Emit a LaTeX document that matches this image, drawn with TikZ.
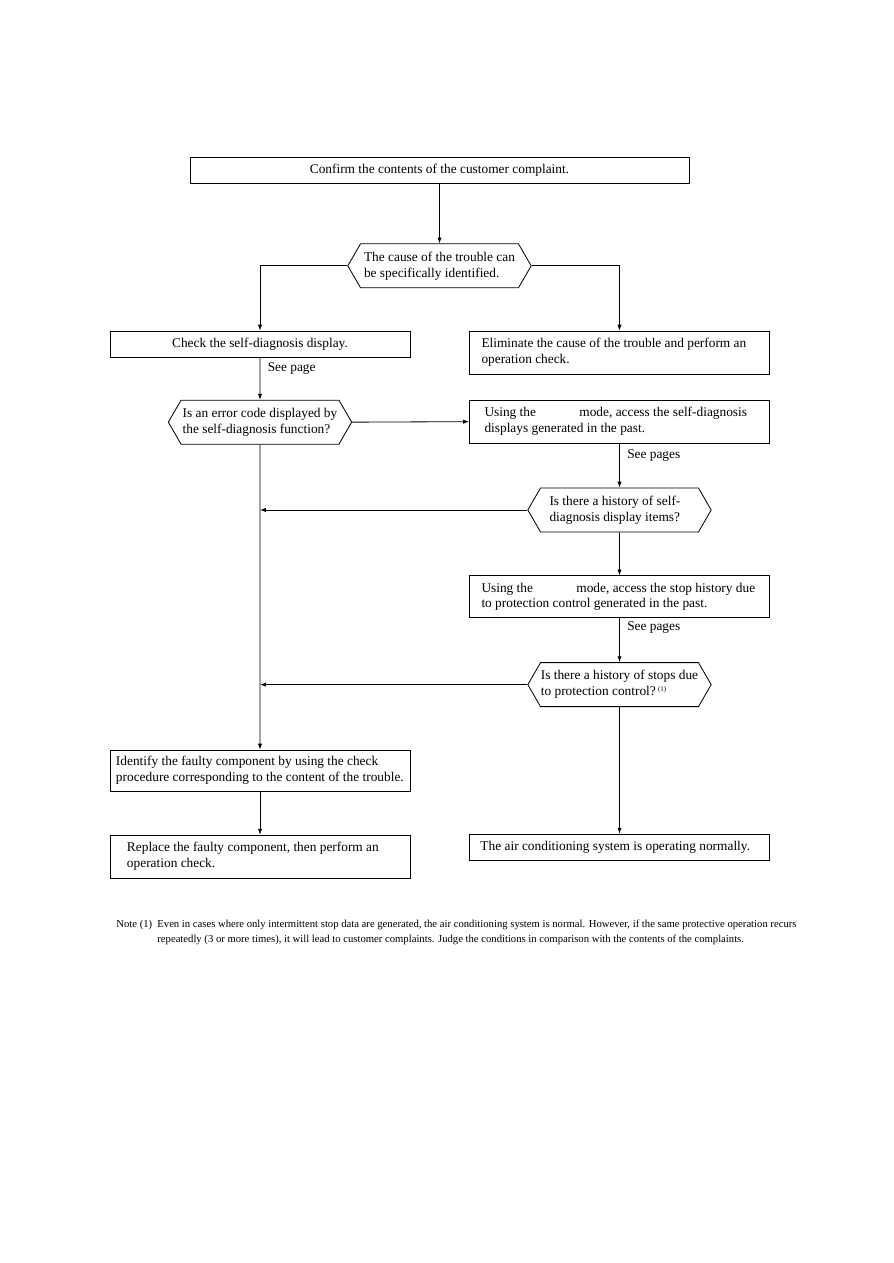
\documentclass[tikz,border=0pt]{standalone}
\usepackage{fontspec}
\setmainfont{Liberation Serif}
\usetikzlibrary{positioning,shapes.symbols,arrows.meta}

\newcommand{\notefont}{\fontsize{9.1}{12.3}\selectfont}
\newcommand{\noteref}{\,\raisebox{0.7ex}{\fontsize{6}{6}\selectfont(1)}}

\begin{document}
\begin{tikzpicture}[
  x=0.03cm, y=-0.03cm,
  font=\fontsize{11.4}{13.6}\selectfont,
  line width=0.7pt,
  box/.style={draw, rectangle, minimum width=9cm, minimum height=0.78cm, inner ysep=2pt},
  lbox/.style={box, minimum height=1.29cm, align=flush left, text width=9cm, inner xsep=0pt,
               execute at begin node={\leftskip=#1\relax}},
  decide/.style={draw, signal, signal to=west and east, signal pointer angle=120,
                 minimum width=5.5cm, minimum height=1.32cm, align=left, inner xsep=0pt, inner ysep=1pt},
  arr/.style={-{Latex[length=5pt, width=3.6pt]}},
  seep/.style={anchor=west, inner sep=0pt, xshift=0.22cm},
]
\useasboundingbox (0,0) rectangle (893,1263);

% Top
\node[box, minimum width=14.97cm] (start) at (439.5,170) {Confirm the contents of the customer complaint.};
\node[decide, below=1.8cm of start] (d1) {The cause of the trouble can\\be specifically identified.};

% Left column
\node[box] (check) at (260,344) {Check the self-diagnosis display.};
\node[decide, below=1.27cm of check] (d2) {Is an error code displayed by\\the self-diagnosis function?};
\node[lbox=0.18cm, minimum height=1.23cm] (ident) at (260,770.5)
  {Identify the faulty component by using the check\\procedure corresponding to the content of the trouble.};
\node[lbox=0.51cm, below=1.3cm of ident] (replace)
  {Replace the faulty component, then perform an\\operation check.};

% Right column
\node[lbox=0.36cm] (elim) at (619.5,352.5)
  {Eliminate the cause of the trouble and perform an\\operation check.};
\node[lbox=0.45cm, below=0.76cm of elim] (using1)
  {Using the \hspace{1.1cm} mode, access the self-diagnosis\\displays generated in the past.};
\node[decide, below=1.32cm of using1, align=flush left, text width=4.2cm] (d3)
  {Is there a history of self-\\diagnosis display items?};
\node[lbox=0.36cm, minimum height=1.26cm, below=1.29cm of d3] (using2)
  {Using the \hspace{1.1cm} mode, access the stop history due\\to protection control generated in the past.};
\node[decide, below=1.32cm of using2] (d4) {Is there a history of stops due\\to protection control?\noteref};
\node[lbox=0.33cm, minimum height=0.78cm, below=3.8cm of d4] (normal)
  {The air conditioning system is operating normally.};

% Join points on the left trunk
\coordinate (m3) at (d3.west -| d2.south);
\coordinate (m4) at (d4.west -| d2.south);

% Arrows
\draw[arr] (start) -- (d1);
\draw[arr] (d1.west) -| (check);
\draw[arr] (d1.east) -| (elim);
\draw[arr] (check) -- node[seep, pos=0.26]{See page} (d2);
\draw[arr] (d2.east) -- (using1.west);
\draw[arr] (using1) -- node[seep, pos=0.27]{See pages} (d3);
\draw[arr] (d3.west) -- (m3);
\draw[arr] (d3) -- (using2);
\draw[arr] (using2) -- node[seep, pos=0.22]{See pages} (d4);
\draw[arr] (d4.west) -- (m4);
\draw[arr] (d4) -- (normal);
\draw[arr] (d2) -- (ident);
\draw[arr] (ident) -- (replace);

% Note
\node[anchor=north west, inner sep=0pt, font=\notefont] (notetag) at (116,920) {Note (1)};
\node[anchor=north west, inner sep=0pt, font=\notefont, align=left] (notebody) at (157,920)
  {Even in cases where only intermittent stop data are generated, the air conditioning system is normal. However, if the same protective operation recurs\\
   repeatedly (3 or more times), it will lead to customer complaints. Judge the conditions in comparison with the contents of the complaints.};

\end{tikzpicture}
\end{document}
